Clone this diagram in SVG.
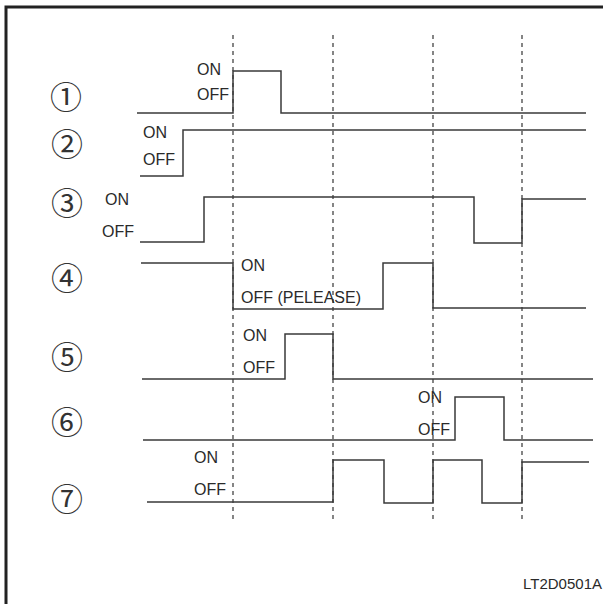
<svg xmlns="http://www.w3.org/2000/svg" width="603" height="604" viewBox="0 0 603 604">
<style>
.sig{fill:none;stroke:#3a3a3a;stroke-width:1.5}
.grid{fill:none;stroke:#444;stroke-width:1.3;stroke-dasharray:4 4}
.lbl{font-family:"Liberation Sans",Arial,sans-serif;font-size:16px;fill:#2a2a2a}
.num{font-family:"Noto Sans CJK JP","DejaVu Sans",sans-serif;font-size:32px;fill:#333;text-anchor:middle;dominant-baseline:central}
</style>
<rect width="603" height="604" fill="#fff"/>
<path d="M6,604 V7 H603" fill="none" stroke="#222" stroke-width="3"/>
<g id="connectors">
<path class="grid" d="M233,35 V522 M333,35 V522 M433,35 V522 M522,35 V522"/>
</g>
<g id="signal1">
<text class="num" x="66" y="95">①</text>
<text class="lbl" x="197" y="75">ON</text>
<text class="lbl" x="197" y="100">OFF</text>
<path class="sig" d="M137,113 H233 V71 H281 V113 H586"/>
</g>
<g id="signal2">
<text class="num" x="67" y="142">②</text>
<text class="lbl" x="143" y="138">ON</text>
<text class="lbl" x="143" y="165">OFF</text>
<path class="sig" d="M140,176 H183 V130 H586"/>
</g>
<g id="signal3">
<text class="num" x="67" y="201">③</text>
<text class="lbl" x="105" y="205">ON</text>
<text class="lbl" x="102" y="237">OFF</text>
<path class="sig" d="M140,242 H204 V197 H474 V243 H522 V199 H586"/>
</g>
<g id="signal4">
<text class="num" x="67" y="276">④</text>
<text class="lbl" x="241" y="271">ON</text>
<text class="lbl" x="241" y="303">OFF (PELEASE)</text>
<path class="sig" d="M141,263 H233 V309 H383 V263 H433 V308 H586"/>
</g>
<g id="signal5">
<text class="num" x="67" y="355">⑤</text>
<text class="lbl" x="243" y="341">ON</text>
<text class="lbl" x="243" y="373">OFF</text>
<path class="sig" d="M142,379 H285 V334 H333 V379 H593"/>
</g>
<g id="signal6">
<text class="num" x="67" y="420">⑥</text>
<text class="lbl" x="418" y="403">ON</text>
<text class="lbl" x="418" y="435">OFF</text>
<path class="sig" d="M143,440 H455 V397 H504 V440 H593"/>
</g>
<g id="signal7">
<text class="num" x="67" y="497">⑦</text>
<text class="lbl" x="194" y="463">ON</text>
<text class="lbl" x="194" y="495">OFF</text>
<path class="sig" d="M147,502 H333 V460 H384 V503 H433 V460 H482 V503 H522 V462 H589"/>
</g>
<text id="code" class="lbl" x="602" y="589" text-anchor="end" style="font-size:15px">LT2D0501A</text>
</svg>
